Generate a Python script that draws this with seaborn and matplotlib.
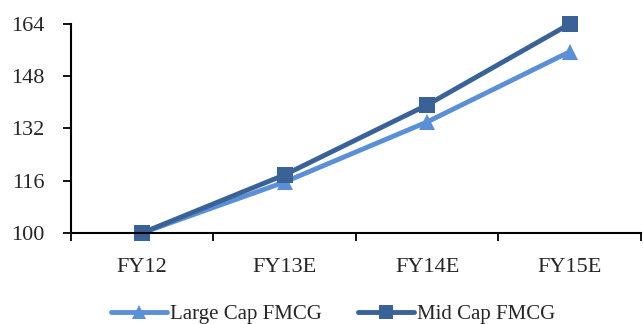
import matplotlib
matplotlib.use("Agg")
import matplotlib.pyplot as plt
import seaborn as sns
import pandas as pd
from matplotlib.ticker import FixedLocator, NullFormatter

# Index values (FY12 = 100)
years = ["FY12", "FY13E", "FY14E", "FY15E"]
large_cap = [100, 115.6, 134.0, 155.5]
mid_cap = [100, 117.8, 139.2, 164.0]
series_names = ["Large Cap FMCG", "Mid Cap FMCG"]
y_ticks = [100, 116, 132, 148, 164]

df = pd.DataFrame({
    "year": years * 2,
    "value": large_cap + mid_cap,
    "series": [series_names[0]] * len(years) + [series_names[1]] * len(years),
})

sns.set_style("white")
plt.rcParams["font.family"] = ["Liberation Serif", "DejaVu Serif"]

fig = plt.figure(figsize=(6.43, 3.24), dpi=100)
ax = fig.add_axes([0.110, 0.281, 0.887, 0.645])

palette = {series_names[0]: "#5B8FD6", series_names[1]: "#3A6296"}
markers = {series_names[0]: "^", series_names[1]: "s"}

sns.lineplot(
    data=df, x="year", y="value", hue="series", style="series",
    markers=markers, dashes=False, palette=palette, linewidth=3.5,
    markersize=11, markeredgewidth=0, ax=ax, sort=False, clip_on=False,
)

ax.set_xlim(-0.5, len(years) - 0.5)
ax.set_ylim(y_ticks[0], y_ticks[-1])
ax.set_yticks(y_ticks)

# category labels centred, tick marks on the boundaries
ax.xaxis.set_major_locator(FixedLocator([i - 0.5 for i in range(len(years) + 1)]))
ax.xaxis.set_major_formatter(NullFormatter())
ax.xaxis.set_minor_locator(FixedLocator(range(len(years))))
ax.set_xticklabels(years, minor=True)
ax.tick_params(axis="x", which="major", direction="out", length=6, width=1.3, bottom=True, color="black")
ax.tick_params(axis="x", which="minor", length=0, labelsize=16, pad=18)
ax.tick_params(axis="y", direction="out", length=6, width=1.3, left=True, labelsize=16, pad=13, color="black")

for side in ["top", "right"]:
    ax.spines[side].set_visible(False)
for side in ["left", "bottom"]:
    ax.spines[side].set_color("black")
    ax.spines[side].set_linewidth(1.5)

ax.set_xlabel("")
ax.set_ylabel("")

handles, labels = ax.get_legend_handles_labels()
for h in handles:
    h.set_markersize(10)
ax.legend(
    handles, labels, loc="center", bbox_to_anchor=(0.46, -0.39),
    ncol=2, frameon=False, fontsize=15, handlelength=2.7, handletextpad=0.15,
    columnspacing=1.7,
)

fig.savefig("out.png", dpi=100)
